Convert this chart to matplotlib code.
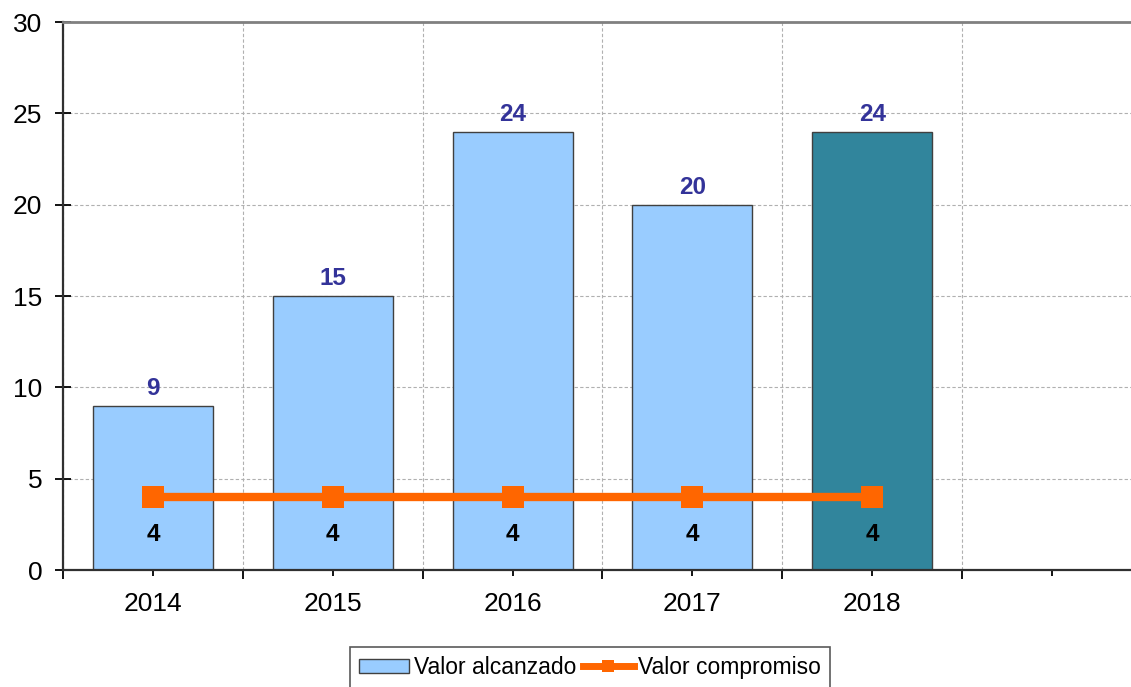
import matplotlib.pyplot as plt
from matplotlib.lines import Line2D
from matplotlib.patches import Patch
import numpy as np

plt.rcParams['font.family'] = ['Liberation Sans', 'DejaVu Sans']

years = ['2014', '2015', '2016', '2017', '2018']
alcanzado = [9, 15, 24, 20, 24]
compromiso = [4, 4, 4, 4, 4]
bar_colors = ['#99CCFF', '#99CCFF', '#99CCFF', '#99CCFF', '#31859C']

x = np.arange(len(years))

fig = plt.figure(figsize=(11.31, 6.87), dpi=100)
ax = fig.add_axes([63 / 1131, 1 - 570 / 687, (1142 - 63) / 1131, (570 - 22) / 687])

ax.bar(x, alcanzado, width=0.667, color=bar_colors, edgecolor='#404040', linewidth=1, zorder=2)
ax.plot(x, compromiso, color='#FF6600', lw=6, marker='s', ms=15.5, mew=0, zorder=3)

for i, v in enumerate(alcanzado):
    ax.annotate(str(v), (i, v), xytext=(0, 4), textcoords='offset points',
                ha='center', va='bottom', color='#333399', fontweight='bold', fontsize=17.5)
for i, v in enumerate(compromiso):
    ax.annotate(str(v), (i, v), xytext=(0, -27), textcoords='offset points',
                ha='center', va='center', color='black', fontweight='bold', fontsize=17.5)

# 6 slots, the last one is empty
ax.set_xlim(-0.5, 5.5)
ax.set_ylim(0, 30)
ax.set_yticks(np.arange(0, 31, 5))
ax.set_xticks(np.arange(-0.5, 5.6, 1))
ax.set_xticklabels([])
ax.set_xticks(np.arange(0, 6), minor=True)
ax.set_xticklabels(years + [''], minor=True)

ax.tick_params(axis='y', direction='inout', length=12, width=1.3, labelsize=19, pad=9)
ax.tick_params(axis='x', which='major', direction='out', length=6.5, width=1.3)
ax.tick_params(axis='x', which='minor', direction='out', length=4.5, width=1.3,
               labelsize=19, pad=11)

ax.grid(True, which='major', color='#B0B0B0', linestyle=(0, (3, 2)), linewidth=0.8, zorder=0)
ax.set_axisbelow(True)

for s in ['left', 'bottom']:
    ax.spines[s].set_color('#303030')
    ax.spines[s].set_linewidth(1.6)
ax.spines['top'].set_color('#808080')
ax.spines['top'].set_linewidth(2)
ax.spines['right'].set_visible(False)

handles = [Patch(facecolor='#99CCFF', edgecolor='#404040', linewidth=1),
           Line2D([], [], color='#FF6600', lw=5, marker='s', ms=9, mew=0)]
leg = fig.legend(handles, ['Valor alcanzado', 'Valor compromiso'], ncol=2,
                 loc='upper center', bbox_to_anchor=(590 / 1131, 1 - 647 / 687),
                 borderaxespad=0, fontsize=16.5, frameon=True, fancybox=False,
                 handlelength=2.2, handleheight=0.6, handletextpad=0.2,
                 columnspacing=0.3, borderpad=0.4)
leg.get_frame().set_edgecolor('#303030')
leg.get_frame().set_linewidth(1.2)

fig.savefig('out.png', dpi=100)
